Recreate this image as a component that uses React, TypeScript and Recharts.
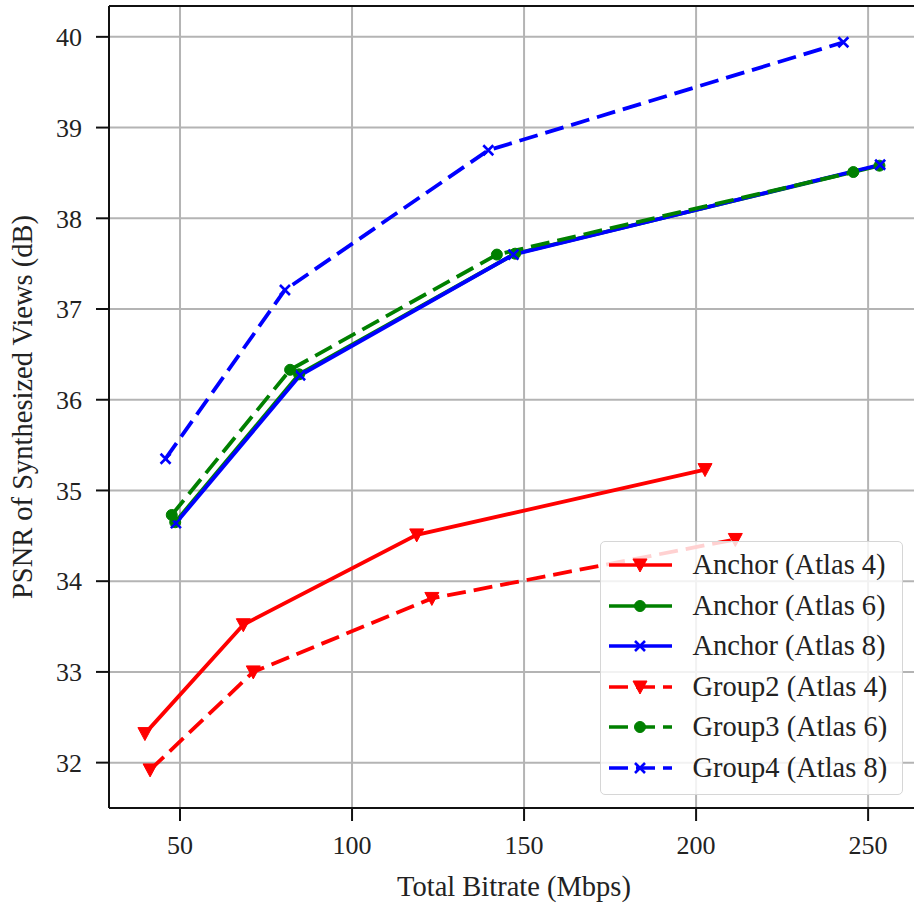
import React from 'react';
import { LineChart, Line, XAxis, YAxis, CartesianGrid, Legend, ReferenceLine } from 'recharts';

// ---- data ----
const anchor4Bitrate = [39.8, 68.4, 118.8, 202.6];
const anchor4Psnr = [32.32, 33.52, 34.51, 35.23];
const anchor6Bitrate = [48.6, 84.6, 147.4, 253.3];
const anchor6Psnr = [34.65, 36.28, 37.61, 38.58];
const anchor8Bitrate = [48.8, 84.9, 146.9, 253.5];
const anchor8Psnr = [34.64, 36.27, 37.6, 38.59];
const group2Bitrate = [41.3, 71.3, 123.2, 211.4];
const group2Psnr = [31.92, 33.0, 33.81, 34.46];
const group3Bitrate = [47.6, 82.0, 142.1, 245.7];
const group3Psnr = [34.73, 36.33, 37.6, 38.51];
const group4Bitrate = [45.8, 80.5, 139.6, 242.8];
const group4Psnr = [35.35, 37.21, 38.75, 39.94];

const xTicks = [50, 100, 150, 200, 250];
const yTicks = [32, 33, 34, 35, 36, 37, 38, 39, 40];
const xDomain = [29.36, 264.5];
const yDomain = [31.5, 40.34];

const toPoints = (xs: number[], ys: number[]) => xs.map((x, i) => ({ x, y: ys[i] }));

type Marker = 'tri' | 'circle' | 'x';
const series = [
  { name: 'Anchor (Atlas 4)', data: toPoints(anchor4Bitrate, anchor4Psnr), color: '#ff0000', dashed: false, marker: 'tri' as Marker },
  { name: 'Anchor (Atlas 6)', data: toPoints(anchor6Bitrate, anchor6Psnr), color: '#008000', dashed: false, marker: 'circle' as Marker },
  { name: 'Anchor (Atlas 8)', data: toPoints(anchor8Bitrate, anchor8Psnr), color: '#0000ff', dashed: false, marker: 'x' as Marker },
  { name: 'Group2 (Atlas 4)', data: toPoints(group2Bitrate, group2Psnr), color: '#ff0000', dashed: true, marker: 'tri' as Marker },
  { name: 'Group3 (Atlas 6)', data: toPoints(group3Bitrate, group3Psnr), color: '#008000', dashed: true, marker: 'circle' as Marker },
  { name: 'Group4 (Atlas 8)', data: toPoints(group4Bitrate, group4Psnr), color: '#0000ff', dashed: true, marker: 'x' as Marker },
];

const FONT = "'Liberation Serif', 'Times New Roman', Times, 'DejaVu Serif', serif";
const DASH = '19 8';

function drawMarker(marker: Marker, cx: number, cy: number, color: string, key?: string) {
  if (marker === 'tri') {
    return (
      <path key={key} d={`M${cx - 7},${cy - 6} L${cx + 7},${cy - 6} L${cx},${cy + 7} Z`} fill={color} stroke={color} strokeWidth={1} />
    );
  }
  if (marker === 'circle') {
    return <circle key={key} cx={cx} cy={cy} r={5.5} fill={color} stroke={color} strokeWidth={1} />;
  }
  return (
    <path key={key} d={`M${cx - 5},${cy - 5} L${cx + 5},${cy + 5} M${cx - 5},${cy + 5} L${cx + 5},${cy - 5}`} stroke={color} strokeWidth={2.6} fill="none" />
  );
}

const makeDot = (marker: Marker, color: string) => (props: any) => {
  const { cx, cy, index } = props;
  if (cx == null || cy == null) return <g key={`e${index}`} />;
  return drawMarker(marker, cx, cy, color, `m${index}`);
};

const YLabel = (props: any) => {
  const vb = props.viewBox || { x: 0, y: 0, width: 0, height: 0 };
  const x = 22;
  const y = vb.y + vb.height / 2;
  return (
    <text x={x} y={y} transform={`rotate(-90 ${x} ${y})`} textAnchor="middle" dominantBaseline="central" style={{ fontFamily: FONT }} fontSize={28.5} fill="#222">
      PSNR of Synthesized Views (dB)
    </text>
  );
};

const XLabel = () => {
  const x = 514;
  const y = 886;
  return (
    <text x={x} y={y} textAnchor="middle" dominantBaseline="central" style={{ fontFamily: FONT }} fontSize={28.5} fill="#222">
      Total Bitrate (Mbps)
    </text>
  );
};

const LegendContent = () => (
  <div
    style={{
      boxSizing: 'border-box',
      width: 303,
      height: 254,
      background: 'rgba(255,255,255,0.82)',
      border: '1.5px solid #d6d6d6',
      borderRadius: 5,
      paddingTop: 3,
      fontFamily: FONT,
    }}
  >
    {series.map((s) => (
      <div key={s.name} style={{ display: 'flex', alignItems: 'center', height: 40.5 }}>
        <svg width={80} height={24} style={{ flex: 'none', marginLeft: -1.5 }}>
          <line x1={9} y1={12} x2={72} y2={12} stroke={s.color} strokeWidth={3.5} strokeDasharray={s.dashed ? DASH : undefined} />
          {drawMarker(s.marker, 40, 12, s.color)}
        </svg>
        <span style={{ marginLeft: 13, fontSize: 28.5, color: '#222', whiteSpace: 'nowrap', lineHeight: 1, fontFamily: FONT }}>{s.name}</span>
      </div>
    ))}
  </div>
);

export default function App() {
  return (
    <div style={{ position: 'absolute', left: 0, top: 0, width: 914, height: 905, overflow: 'hidden', background: '#fff', fontFamily: FONT }}>
      <LineChart width={930} height={905} margin={{ top: 6, right: 12, bottom: 0, left: 0 }} style={{ fontFamily: FONT }}>
        <CartesianGrid stroke="#b4b4b4" strokeWidth={2} />
        <XAxis
          type="number"
          dataKey="x"
          domain={xDomain}
          ticks={xTicks}
          allowDataOverflow
          height={97}
          tickSize={13}
          tickMargin={15}
          axisLine={{ stroke: '#111', strokeWidth: 2 }}
          tickLine={{ stroke: '#111', strokeWidth: 2 }}
          tick={{ fontSize: 26, fill: '#222', style: { fontFamily: FONT } }}
          label={<XLabel />}
        />
        <YAxis
          type="number"
          dataKey="y"
          domain={yDomain}
          ticks={yTicks}
          allowDataOverflow
          width={109}
          tickSize={13}
          tickMargin={14}
          axisLine={{ stroke: '#111', strokeWidth: 2 }}
          tickLine={{ stroke: '#111', strokeWidth: 2 }}
          tick={{ fontSize: 26, fill: '#222', style: { fontFamily: FONT } }}
          label={<YLabel />}
        />
        <ReferenceLine y={yDomain[1]} stroke="#111" strokeWidth={2} />
        {series.map((s) => (
          <Line
            key={s.name}
            name={s.name}
            data={s.data}
            dataKey="y"
            type="linear"
            stroke={s.color}
            strokeWidth={3.8}
            strokeDasharray={s.dashed ? DASH : undefined}
            dot={makeDot(s.marker, s.color)}
            activeDot={false}
            isAnimationActive={false}
          />
        ))}
        <Legend
          layout="horizontal"
          verticalAlign="middle"
          align="center"
          content={<LegendContent />}
          wrapperStyle={{ left: 600, top: 541, width: 303, height: 254 }}
        />
      </LineChart>
    </div>
  );
}
